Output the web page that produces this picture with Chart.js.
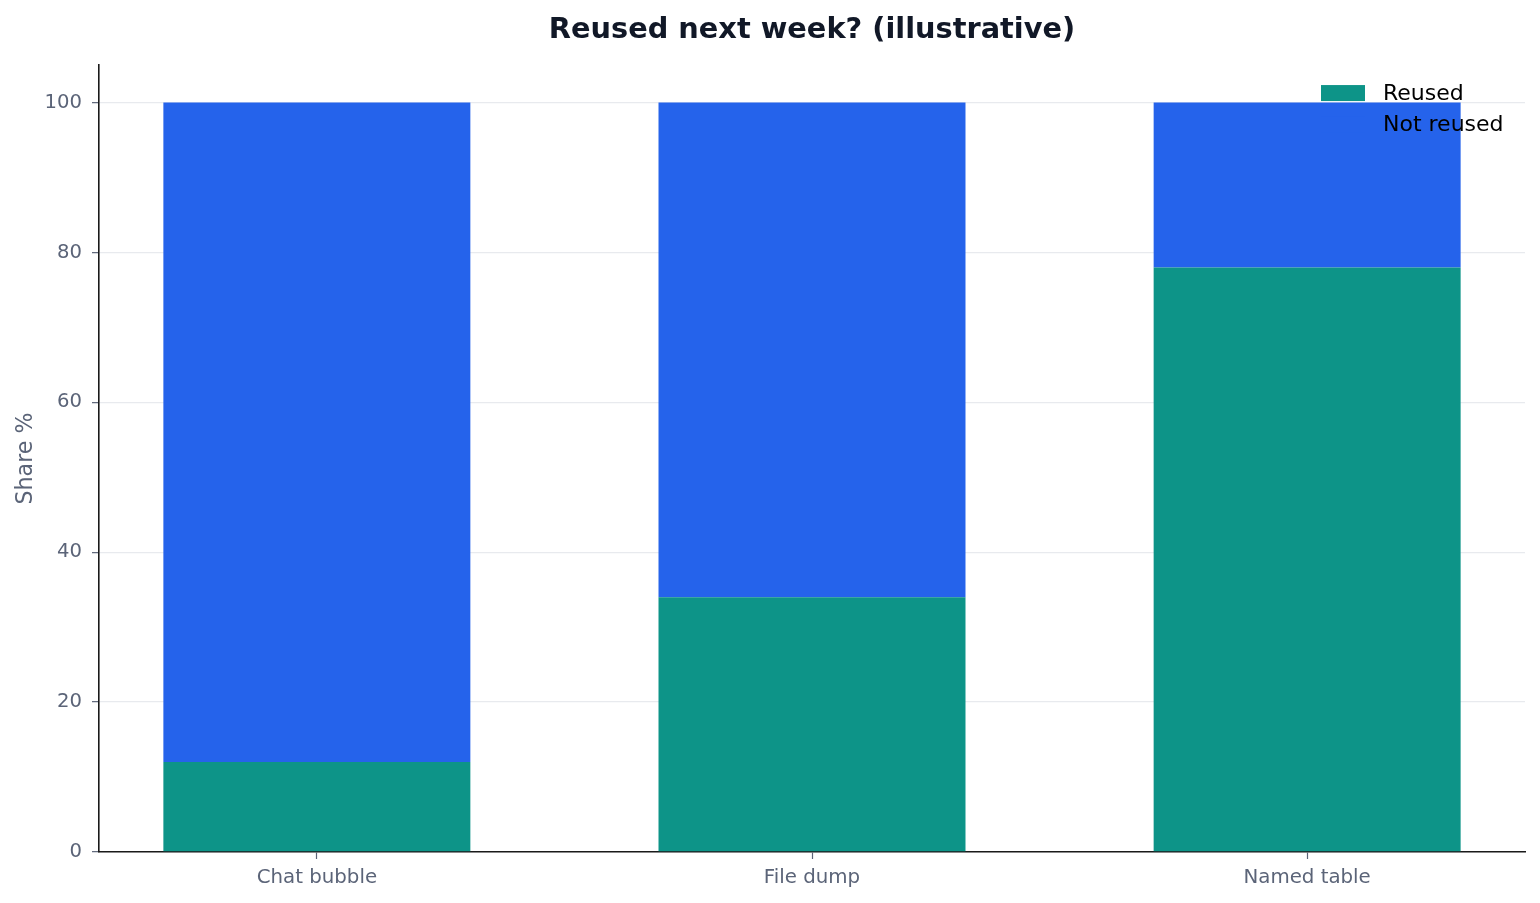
<!DOCTYPE html>
<html>
<head>
<meta charset="utf-8">
<title>Reused next week?</title>
<script src="https://cdn.jsdelivr.net/npm/chart.js@4.4.1/dist/chart.umd.min.js"></script>
<style>
  html, body { margin: 0; padding: 0; background: #ffffff; }
  #reuse-chart { display: block; }
</style>
</head>
<body>
<canvas id="reuse-chart" width="1540" height="903"></canvas>
<script>
// values (share %, each bar sums to 100)
var categories = ['Chat bubble', 'File dump', 'Named table'];
var reused = [12, 34, 78];
var notReused = [88, 66, 22];
var yTicks = [0, 20, 40, 60, 80, 100];

var tickGray = '#5b6478';

function toPoints(values) {
    return values.map(function (v, i) { return { x: i, y: v }; });
}

// matplotlib-style legend sitting inside the plot, top right, no frame
var insideLegend = {
    id: 'insideLegend',
    afterDatasetsDraw: function (chart) {
        var ctx = chart.ctx;
        var area = chart.chartArea;
        ctx.save();
        ctx.font = '22px "DejaVu Sans"';
        ctx.textBaseline = 'middle';
        ctx.textAlign = 'left';
        chart.data.datasets.forEach(function (ds, i) {
            var px = area.right - 204;
            var py = area.top + 20 + i * 31;
            ctx.fillStyle = ds.backgroundColor;
            ctx.fillRect(px, py, 44, 16);
            ctx.fillStyle = '#000000';
            ctx.fillText(ds.label, px + 62, py + 9);
        });
        ctx.restore();
    }
};

var ctx = document.getElementById('reuse-chart').getContext('2d');

var chart = new Chart(ctx, {
    type: 'bar',
    data: {
        datasets: [{
            label: 'Reused',
            backgroundColor: '#0d9488',
            data: toPoints(reused),
        }, {
            label: 'Not reused',
            backgroundColor: '#2563eb',
            data: toPoints(notReused),
        }]
    },
    plugins: [insideLegend],
    options: {
        responsive: false,
        animation: false,
        devicePixelRatio: 1,
        categoryPercentage: 1,
        barPercentage: 0.62,
        layout: { padding: { top: 0, right: 15, bottom: 0, left: 0 } },
        plugins: {
            legend: { display: false },
            tooltip: { enabled: false },
            title: {
                display: true,
                fullSize: false,
                text: 'Reused next week? (illustrative)',
                color: '#111827',
                font: { family: 'DejaVu Sans', size: 28.8, weight: 'bold' },
                padding: { top: 13, bottom: 17.5 }
            }
        },
        scales: {
            x: {
                type: 'linear',
                stacked: true,
                offset: false,
                min: -0.44,
                max: 2.44,
                afterBuildTicks: function (scale) {
                    scale.ticks = categories.map(function (c, i) { return { value: i }; });
                },
                afterFit: function (scale) { scale.height = 51; },
                ticks: {
                    color: tickGray,
                    padding: 7,
                    font: { family: 'DejaVu Sans', size: 19.8 },
                    callback: function (value) { return categories[value]; }
                },
                grid: {
                    offset: false,
                    drawOnChartArea: false,
                    tickColor: tickGray,
                    tickLength: 7,
                    tickWidth: 1.2
                },
                border: { color: '#1a1a1a', width: 1.6 }
            },
            y: {
                stacked: true,
                min: 0,
                max: 105,
                afterBuildTicks: function (scale) {
                    scale.ticks = yTicks.map(function (v) { return { value: v }; });
                },
                afterFit: function (scale) { scale.width = 99; },
                ticks: {
                    color: tickGray,
                    padding: 10,
                    font: { family: 'DejaVu Sans', size: 19.6 }
                },
                grid: {
                    color: '#e8eaee',
                    lineWidth: 1.3,
                    tickColor: tickGray,
                    tickLength: 7,
                    tickWidth: 1.2
                },
                border: { color: '#1a1a1a', width: 1.6 },
                title: {
                    display: true,
                    text: 'Share %',
                    color: tickGray,
                    font: { family: 'DejaVu Sans', size: 22.2 },
                    padding: { top: 12.5, bottom: 0 }
                }
            }
        }
    }
});
</script>
</body>
</html>
